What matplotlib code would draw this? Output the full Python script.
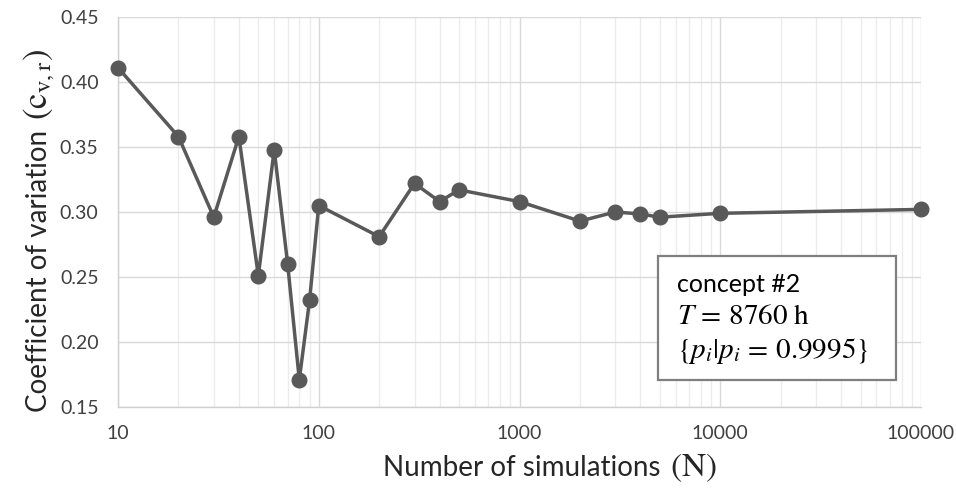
import matplotlib
matplotlib.use("Agg")
import matplotlib.pyplot as plt
from matplotlib.patches import Rectangle
from matplotlib.ticker import LogLocator, NullFormatter

plt.rcParams['font.family'] = ['Lato', 'DejaVu Sans']
plt.rcParams['mathtext.fontset'] = 'stix'

N = [10, 20, 30, 40, 50, 60, 70, 80, 90, 100, 200, 300, 400, 500,
     1000, 2000, 3000, 4000, 5000, 10000, 100000]
cv = [0.411, 0.358, 0.296, 0.358, 0.251, 0.348, 0.260, 0.171, 0.232, 0.305,
      0.281, 0.322, 0.308, 0.317, 0.308, 0.293, 0.300, 0.2985, 0.296, 0.299, 0.302]
xticks = [10, 100, 1000, 10000, 100000]
xticklabels = ['10', '100', '1000', '10000', '100000']
yticks = [0.15, 0.20, 0.25, 0.30, 0.35, 0.40, 0.45]

W, H = 956, 494
fig = plt.figure(figsize=(W/100, H/100), dpi=100)
ax = fig.add_axes([118/W, 1-407/H, (921-118)/W, (407-17)/H])

ax.plot(N, cv, color='#595959', lw=2.5, marker='o', markersize=10.5,
        markerfacecolor='#595959', markeredgecolor='#595959', zorder=3, clip_on=False)

ax.set_xscale('log')
ax.set_xlim(10, 100000)
ax.set_ylim(0.15, 0.45)
ax.set_xticks(xticks)
ax.set_xticklabels(xticklabels)
ax.xaxis.set_minor_locator(LogLocator(base=10, subs=range(2, 10), numticks=20))
ax.xaxis.set_minor_formatter(NullFormatter())
ax.set_yticks(yticks)
ax.set_yticklabels([f'{v:.2f}' for v in yticks])

ax.grid(True, which='major', axis='both', color='#d9d9d9', lw=1.0)
ax.grid(True, which='minor', axis='x', color='#ececec', lw=1.0)
for s in ['top', 'right']:
    ax.spines[s].set_visible(False)
for s in ['left', 'bottom']:
    ax.spines[s].set_color('#d0d0d0')
    ax.spines[s].set_linewidth(1.0)
ax.tick_params(which='both', length=0, labelsize=14, colors='#404040')
ax.tick_params(axis='x', pad=13)
ax.tick_params(axis='y', pad=14)

fig.canvas.draw()
r = fig.canvas.get_renderer()

def fx(px):
    return px / W

def fy(py):
    return 1 - py / H

t1 = fig.text(fx(383), fy(476), 'Number of simulations', fontsize=20, color='#262626',
              ha='left', va='baseline')
e = t1.get_window_extent(r)
fig.text((e.x1 + 10) / W, fy(476), r'$(\mathrm{N})$', fontsize=24, color='#262626',
         ha='left', va='baseline')

t2 = fig.text(fx(47), fy(412), 'Coefficient of variation', fontsize=20, color='#262626',
              ha='left', va='baseline', rotation=90, rotation_mode='anchor')
e2 = t2.get_window_extent(r)
fig.text(fx(47), (e2.y1 + 10) / H, r'$(\mathrm{c_{v,r}})$', fontsize=25, color='#262626',
         ha='left', va='baseline', rotation=90, rotation_mode='anchor')

fig.patches.append(Rectangle((fx(658), fy(380)), (896-658)/W, (380-256)/H,
                             transform=fig.transFigure, facecolor='white',
                             edgecolor='#7f7f7f', lw=1.6, zorder=5))
fig.text(fx(677), fy(292), 'concept #2', fontsize=18, color='black',
         ha='left', va='baseline', zorder=6)
fig.text(fx(677), fy(324), r'$T\,=\,8760\ \mathrm{h}$', fontsize=21, color='black',
         ha='left', va='baseline', zorder=6)
fig.text(fx(677), fy(358), r'$\{p_i|p_i\,=\,0.9995\}$', fontsize=21, color='black',
         ha='left', va='baseline', zorder=6)

fig.savefig('out.png', dpi=100)
